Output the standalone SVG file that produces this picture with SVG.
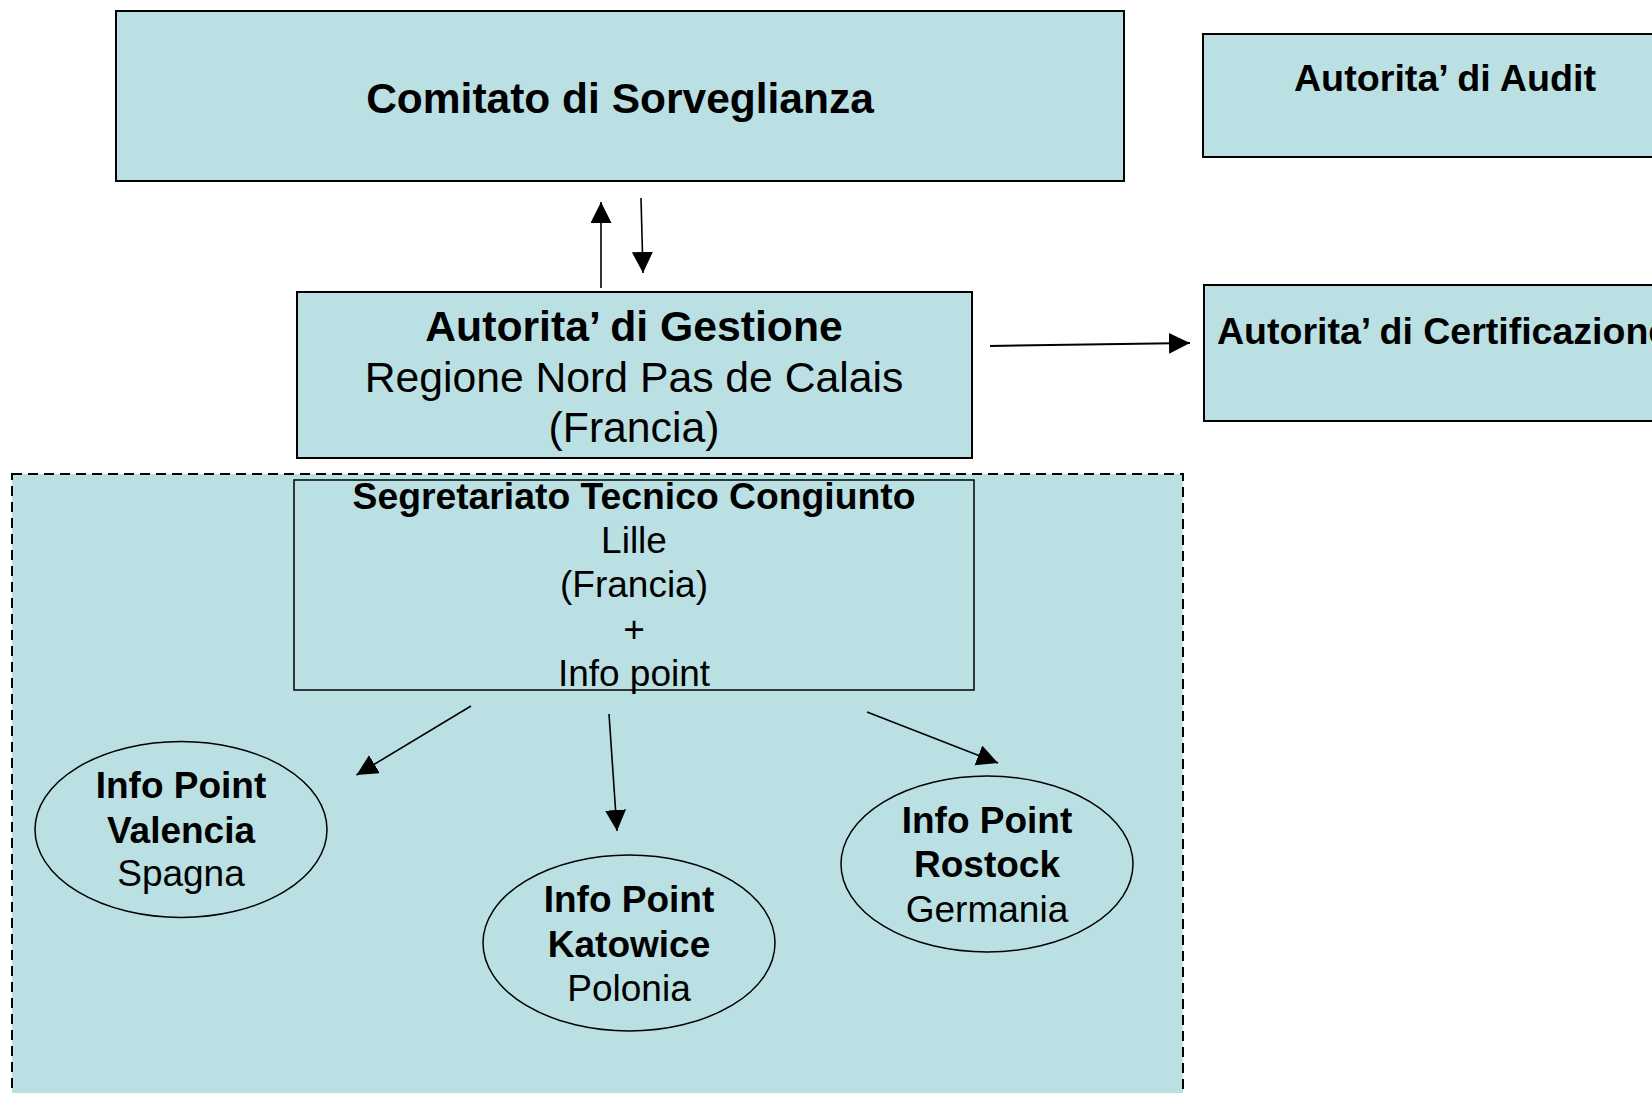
<svg xmlns="http://www.w3.org/2000/svg" width="1652" height="1093" viewBox="0 0 1652 1093">
<style>
.box{fill:#BBE0E3;stroke:#000;stroke-width:2}
.thin{fill:#BBE0E3;stroke:#000;stroke-width:1.5}
.dash{fill:#BBE0E3;stroke:#000;stroke-width:2;stroke-dasharray:10 6}
.t{font-family:"Liberation Sans",Arial,sans-serif;fill:#000;text-anchor:middle}
.b{font-weight:bold}
.s42{font-size:42.7px}
.s37{font-size:37px}
.c{fill:none;stroke:#000;stroke-width:1.6}
</style>
<defs>
<marker id="ah" markerUnits="userSpaceOnUse" markerWidth="24" markerHeight="22" refX="21" refY="10.5" orient="auto">
<path d="M0,0 L21,10.5 L0,21 Z" fill="#000"/>
</marker>
</defs>
<rect width="1652" height="1093" fill="#fff"/>
<g id="comitato">
<rect class="box" x="116" y="11" width="1008" height="170"/>
<text class="t b" x="620" y="113" style="font-size:42.5px">Comitato di Sorveglianza</text>
</g>
<g id="audit">
<rect class="box" x="1203" y="34" width="490" height="123"/>
<text class="t b" x="1445" y="91" style="font-size:37.7px">Autorita’ di Audit</text>
</g>
<g id="certificazione">
<rect class="box" x="1204" y="285" width="490" height="136"/>
<text class="t b" x="1217" y="344" style="text-anchor:start;font-size:37.5px">Autorita’ di Certificazione</text>
</g>
<g id="container">
<rect class="dash" x="12" y="474" width="1171" height="640"/>
</g>
<g id="gestione">
<rect class="box" x="297" y="292" width="675" height="166"/>
<text class="t b s42" x="634" y="341">Autorita’ di Gestione</text>
<text class="t s42" x="634" y="392">Regione Nord Pas de Calais</text>
<text class="t s42" x="634" y="442">(Francia)</text>
</g>
<g id="segretariato">
<rect class="thin" x="294" y="480" width="680" height="210"/>
<text class="t b" x="634" y="509" style="font-size:37.3px">Segretariato Tecnico Congiunto</text>
<text class="t s37" x="634" y="553">Lille</text>
<text class="t s37" x="634" y="597">(Francia)</text>
<text class="t s37" x="634" y="642">+</text>
<text class="t s37" x="634" y="686">Info point</text>
</g>
<g id="valencia">
<ellipse class="thin" cx="181" cy="829.5" rx="146" ry="88"/>
<text class="t b s37" x="181" y="798">Info Point</text>
<text class="t b s37" x="181" y="842.5">Valencia</text>
<text class="t s37" x="181" y="886">Spagna</text>
</g>
<g id="katowice">
<ellipse class="thin" cx="629" cy="943" rx="146" ry="88"/>
<text class="t b s37" x="629" y="912">Info Point</text>
<text class="t b s37" x="629" y="956.5">Katowice</text>
<text class="t s37" x="629" y="1000.5">Polonia</text>
</g>
<g id="rostock">
<ellipse class="thin" cx="987" cy="864" rx="146" ry="88"/>
<text class="t b s37" x="987" y="833">Info Point</text>
<text class="t b s37" x="987" y="877">Rostock</text>
<text class="t s37" x="987" y="921.5">Germania</text>
</g>
<g id="connectors">
<line class="c" x1="601" y1="288" x2="601" y2="202" marker-end="url(#ah)"/>
<line class="c" x1="641" y1="198" x2="643" y2="273" marker-end="url(#ah)"/>
<line class="c" x1="990" y1="346" x2="1190" y2="343" marker-end="url(#ah)" style="stroke-width:2"/>
<line class="c" x1="471" y1="706" x2="356.5" y2="775" marker-end="url(#ah)"/>
<line class="c" x1="609" y1="714" x2="617" y2="831" marker-end="url(#ah)"/>
<line class="c" x1="867" y1="712" x2="998" y2="763" marker-end="url(#ah)"/>
</g>
</svg>
